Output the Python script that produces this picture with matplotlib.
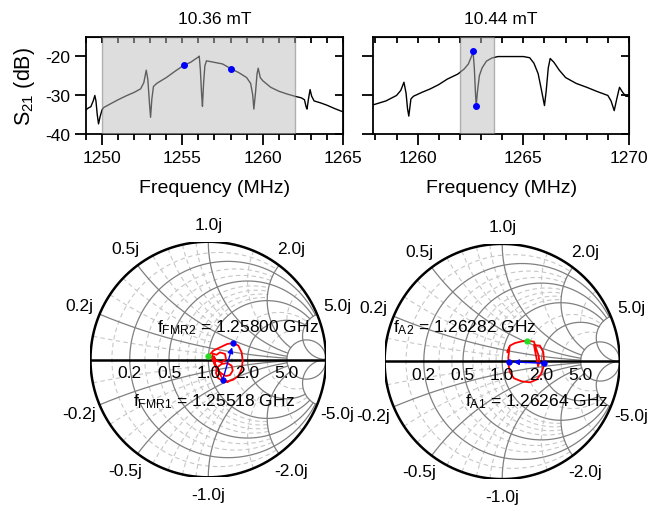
import numpy as np
import matplotlib
matplotlib.use("Agg")
import matplotlib.pyplot as plt
from matplotlib.ticker import MultipleLocator

plt.rcParams['font.family'] = ['Liberation Sans', 'DejaVu Sans']
plt.rcParams['mathtext.default'] = 'regular'
plt.rcParams['axes.unicode_minus'] = False

# ---- transmission spectra ----
f_left = [1249.0, 1249.15, 1249.3, 1249.45, 1249.55, 1249.62, 1249.7, 1249.78, 1249.88, 1250.0,
          1250.1, 1250.5, 1251.0, 1251.5, 1252.0, 1252.4, 1252.6, 1252.75, 1252.85, 1252.95,
          1253.02, 1253.1, 1253.2, 1253.4, 1254.0, 1254.5, 1255.1, 1255.5, 1256.0, 1256.05,
          1256.12, 1256.2, 1256.25, 1256.32, 1256.4, 1256.5, 1257.0, 1257.5, 1258.05, 1258.5,
          1259.0, 1259.25, 1259.38, 1259.45, 1259.55, 1259.65, 1259.72, 1259.85, 1260.0, 1260.5,
          1261.0, 1261.5, 1262.0, 1262.4, 1262.6, 1262.7, 1262.76, 1262.85, 1262.95, 1263.05,
          1263.2, 1263.6, 1264.0, 1264.5, 1265.0]
s_left = [-33.8, -33.3, -33.0, -31.5, -30.1, -31.5, -35.0, -37.4, -35.5, -33.8,
          -33.2, -32.3, -31.2, -30.2, -29.3, -28.4, -26.8, -23.6, -26.0, -32.0,
          -35.7, -31.0, -27.8, -27.0, -25.5, -24.0, -22.3, -21.6, -20.2, -20.0,
          -23.5, -30.0, -32.9, -27.0, -22.5, -21.2, -21.6, -22.0, -23.3, -24.2,
          -25.5, -27.0, -30.0, -33.6, -29.5, -24.5, -23.1, -25.5, -26.3, -28.0,
          -29.0, -29.7, -30.3, -30.7, -31.2, -33.0, -33.6, -31.0, -28.6, -30.3,
          -31.5, -32.0, -32.6, -33.5, -34.3]

f_right = [1257.9, 1258.2, 1258.5, 1259.0, 1259.2, 1259.35, 1259.45, 1259.52, 1259.58, 1259.68,
           1259.8, 1260.2, 1260.6, 1261.0, 1261.4, 1261.9, 1262.2, 1262.4, 1262.55, 1262.62,
           1262.68, 1262.73, 1262.77, 1262.83, 1262.92, 1263.05, 1263.25, 1263.5, 1263.8, 1264.5,
           1265.0, 1265.3, 1265.5, 1265.7, 1265.85, 1266.0, 1266.08, 1266.18, 1266.27, 1266.45,
           1266.7, 1267.0, 1267.5, 1268.0, 1268.5, 1269.0, 1269.15, 1269.3, 1269.42, 1269.55,
           1269.7, 1269.85, 1270.0]
s_right = [-32.5, -32.0, -31.5, -30.1, -28.8, -26.7, -29.5, -33.5, -35.4, -31.0,
           -30.3, -29.3, -28.4, -27.3, -25.9, -24.6, -23.3, -22.0, -20.0, -18.8,
           -23.0, -29.0, -32.8, -29.0, -25.0, -23.0, -21.3, -20.5, -20.1, -20.1,
           -20.1, -20.4, -21.8, -24.5, -28.5, -32.7, -29.0, -23.0, -20.6, -21.6,
           -23.6, -25.5, -27.0, -28.0, -29.1, -30.1, -31.5, -34.0, -31.0, -28.0,
           -29.3, -30.3, -30.3]

mark_f_left = [1255.1, 1258.05]
mark_s_left = [-22.3, -23.3]
mark_f_right = [1262.62, 1262.77]
mark_s_right = [-18.8, -32.8]

span_left = (1250.0, 1262.0)
span_right = (1262.0, 1263.6)
titles = ['10.36 mT', '10.44 mT']

# ---- Smith chart traces (reflection plane, real / imag) ----
gl_re = [0.0, 0.042, 0.099, 0.161, 0.212, 0.255, 0.283, 0.292, 0.283, 0.258, 0.212, 0.161,
         0.122, 0.085, 0.065, 0.076, 0.113, 0.161, 0.198, 0.207, 0.184, 0.150, 0.113, 0.071,
         0.048, 0.030, 0.040, 0.070, 0.099, 0.142, 0.150, 0.113, 0.065, 0.048, 0.060, 0.090,
         0.130, 0.165]
gl_im = [0.027, 0.075, 0.103, 0.132, 0.140, 0.118, 0.061, -0.010, -0.081, -0.137, -0.171, -0.188,
         -0.180, -0.160, -0.115, -0.067, -0.038, -0.030, -0.052, -0.095, -0.132, -0.140, -0.120, -0.080,
         -0.030, 0.020, 0.050, 0.040, 0.061, 0.047, 0.004, -0.024, -0.010, 0.027, -0.040, -0.110,
         -0.175, -0.190]
pts_left_re = [0.122, 0.212]   # FMR1, FMR2
pts_left_im = [-0.174, 0.137]
start_left = (0.0, 0.027)

gr_re = [0.061, 0.044, 0.066, 0.109, 0.166, 0.208, 0.270, 0.288, 0.310, 0.316, 0.305, 0.270,
         0.321, 0.350, 0.355, 0.350, 0.330, 0.293, 0.236, 0.166, 0.100, 0.066, 0.055, 0.052, 0.061]
gr_im = [0.120, 0.078, 0.135, 0.157, 0.171, 0.177, 0.169, 0.112, 0.050, -0.007, -0.040, 0.140,
         0.135, 0.078, 0.007, -0.050, -0.106, -0.154, -0.177, -0.169, -0.143, -0.092, -0.035, 0.035, 0.106]
pts_right_re = [0.355, 0.060]  # A1, A2
pts_right_im = [-0.015, -0.002]
start_right = (0.208, 0.177)

labels_left = [r'f$_{FMR1}$ = 1.25518 GHz', r'f$_{FMR2}$ = 1.25800 GHz']
labels_right = [r'f$_{A1}$ = 1.26264 GHz', r'f$_{A2}$ = 1.26282 GHz']

major_r = [0.2, 0.5, 1.0, 2.0, 5.0]
major_x = [0.2, 0.5, 1.0, 2.0, 5.0]
minor_r = [0.1, 0.3, 0.4, 0.6, 0.7, 0.8, 0.9, 1.5, 3.0]
minor_x = [0.1, 0.3, 0.4, 0.6, 0.7, 0.8, 0.9, 1.5, 3.0]


def gamma(z):
    return (z - 1) / (z + 1)


def spectrum(ax, f, s, span, mf, ms, title, ylabel):
    ax.plot(f, s, color='black', lw=1.0, zorder=2)
    ax.axvspan(span[0], span[1], facecolor=(0.74, 0.74, 0.74), alpha=0.5,
               edgecolor=(0.45, 0.45, 0.45), lw=1.0, zorder=3)
    ax.plot(mf, ms, 'o', color='blue', ms=4, zorder=4)
    ax.set_ylim(-40, -15)
    ax.set_yticks([-40, -30, -20])
    ax.xaxis.set_major_locator(MultipleLocator(5))
    ax.xaxis.set_minor_locator(MultipleLocator(1))
    ax.tick_params(which='major', direction='out', length=8, width=1.3, labelsize=12.5)
    ax.tick_params(which='minor', direction='out', length=4, width=1.3)
    for sp in ax.spines.values():
        sp.set_linewidth(1.3)
    top = ax.secondary_xaxis('top')
    top.xaxis.set_major_locator(MultipleLocator(5))
    top.xaxis.set_minor_locator(MultipleLocator(1))
    top.tick_params(which='both', direction='in', length=4, width=1.3, labeltop=False)
    right = ax.secondary_yaxis('right')
    right.set_yticks([-40, -30, -20])
    right.tick_params(direction='in', length=6, width=1.3, labelright=False)
    ax.set_xlabel('Frequency (MHz)', fontsize=14, labelpad=10)
    ax.set_title(title, fontsize=12.5, pad=10)
    if ylabel:
        ax.set_ylabel(r'S$_{21}$ (dB)', fontsize=15.5, labelpad=6)
    else:
        ax.set_yticklabels([])


def smith(ax, tr_re, tr_im, p_re, p_im, start, labels, label_pos):
    # minor grid (dashed)
    for r in minor_r:
        lim = 2.0 if r < 1 else 5.0
        g = gamma(r + 1j * np.linspace(-lim, lim, 400))
        ax.plot(g.real, g.imag, color=(0.78, 0.78, 0.78), lw=0.8, ls=(0, (4, 3)), zorder=1)
    for x in minor_x:
        lim = 1.0 if x < 1 else 2.0
        for sgn in (1, -1):
            g = gamma(np.linspace(0, lim, 300) + 1j * sgn * x)
            ax.plot(g.real, g.imag, color=(0.78, 0.78, 0.78), lw=0.8, ls=(0, (4, 3)), zorder=1)
    # major grid: lines stop at the 5.0 circle / arcs
    for r in major_r:
        if r < 5:
            xs = np.linspace(-5, 5, 600)
        else:
            xs = np.tan(np.linspace(-np.pi / 2 + 1e-4, np.pi / 2 - 1e-4, 800))
        g = gamma(r + 1j * xs)
        ax.plot(g.real, g.imag, color=(0.5, 0.5, 0.5), lw=0.9, zorder=2)
        ax.text((r - 1) / (r + 1), -0.11, f'{r:.1f}', ha='center', va='center', fontsize=12.5, zorder=6)
    for x in major_x:
        if x < 5:
            rs = np.linspace(0, 5, 400)
        else:
            rs = np.concatenate([np.linspace(0, 1, 200), np.logspace(0, 4, 400)])
        for sgn in (1, -1):
            g = gamma(rs + 1j * sgn * x)
            ax.plot(g.real, g.imag, color=(0.5, 0.5, 0.5), lw=0.9, zorder=2)
            p = gamma(1j * sgn * x)
            ang = np.angle(p)
            rad = 1.15 + 0.04 * abs(np.cos(ang))
            ax.text(rad * np.cos(ang), rad * np.sin(ang), f'{sgn * x:.1f}j',
                    ha='center', va='center', fontsize=12.5)
    th = np.linspace(0, 2 * np.pi, 600)
    ax.plot(np.cos(th), np.sin(th), color='black', lw=1.8, zorder=3)
    ax.plot([-1, 1], [0, 0], color='black', lw=1.8, zorder=3)
    # data
    ax.plot(tr_re, tr_im, color='red', lw=1.3, zorder=4)
    ax.annotate('', xy=(p_re[1], p_im[1]), xytext=(p_re[0], p_im[0]),
                arrowprops=dict(arrowstyle='-|>', color='blue', lw=1.0, mutation_scale=8,
                                shrinkA=0, shrinkB=3), zorder=5)
    ax.plot(p_re, p_im, 'o', color='blue', ms=3.5, zorder=6)
    ax.plot(*start, 'o', color='#22dd22', ms=3.5, zorder=6)
    for lab, pos in zip(labels, label_pos):
        ax.text(pos[0], pos[1], lab, ha='left', va='center', fontsize=12.5, zorder=7)
    ax.set_xlim(-1, 1)
    ax.set_ylim(-1, 1)
    ax.axis('off')


fig = plt.figure(figsize=(6.5, 5.06), dpi=100)
ax1 = fig.add_axes([0.1323, 0.7332, 0.3954, 0.1923])
ax2 = fig.add_axes([0.5743, 0.7332, 0.3934, 0.1923])
ax1.set_xlim(1249, 1265)
ax2.set_xlim(1257.9, 1270)
spectrum(ax1, f_left, s_left, span_left, mark_f_left, mark_s_left, titles[0], True)
spectrum(ax2, f_right, s_right, span_right, mark_f_right, mark_s_right, titles[1], False)

ax3 = fig.add_axes([0.1392, 0.0547, 0.3625, 0.4656])
ax4 = fig.add_axes([0.5917, 0.0512, 0.3618, 0.4648])
smith(ax3, gl_re, gl_im, pts_left_re, pts_left_im, start_left, labels_left,
      [(-0.639, -0.352), (-0.435, 0.276)])
smith(ax4, gr_re, gr_im, pts_right_re, pts_right_im, start_right, labels_right,
      [(-0.316, -0.337), (-0.929, 0.293)])

fig.savefig('out.png', dpi=100)
